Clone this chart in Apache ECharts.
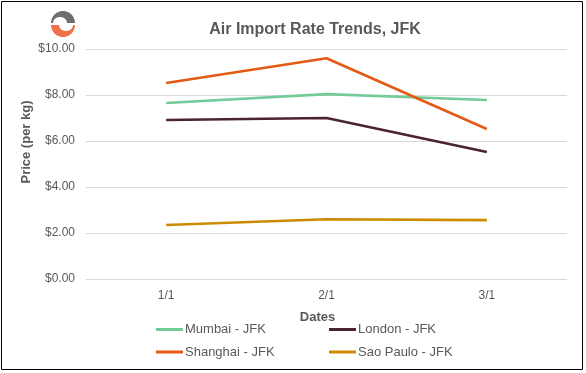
<!DOCTYPE html>
<html><head><meta charset="utf-8">
<script src="https://cdn.jsdelivr.net/npm/echarts@6/dist/echarts.min.js"></script>
<style>html,body{margin:0;padding:0;background:#fff}#c{width:586px;height:373px}</style>
</head><body><div id="c"></div>
<script>
const categories = ['1/1', '2/1', '3/1'];
const mumbai = [7.65, 8.04, 7.78];
const london = [6.91, 7.0, 5.52];
const shanghai = [8.52, 9.6, 6.52];
const saoPaulo = [2.35, 2.6, 2.56];
const yTicks = [0, 2, 4, 6, 8, 10];

const colors = {
  'Mumbai - JFK': '#74CB9A',
  'London - JFK': '#4B2335',
  'Shanghai - JFK': '#E35B12',
  'Sao Paulo - JFK': '#CC8B00'
};
const grey = '#595959';
const font = 'Liberation Sans, Arial, sans-serif';

// logo crescent outline (decoration)
function crescent(cx, cy, r, icx, rx, ry, top) {
  const pts = [];
  const s = top ? -1 : 1;
  const n = 24;
  for (let i = 0; i <= n; i++) {
    const a = Math.PI * i / n;
    const x = top ? cx - r * Math.cos(a) : cx + r * Math.cos(a);
    pts.push([x, cy + s * r * Math.sin(a)]);
  }
  for (let i = 0; i <= n; i++) {
    const a = Math.PI * i / n;
    const x = top ? icx + rx * Math.cos(a) : icx - rx * Math.cos(a);
    pts.push([x, cy + s * ry * Math.sin(a)]);
  }
  return pts;
}

function mk(name, data) {
  return {
    name, type: 'line', data, symbol: 'none', smooth: false,
    lineStyle: { width: 2.6, color: colors[name] },
    itemStyle: { color: colors[name] }
  };
}
const legendBase = {
  orient: 'vertical', itemWidth: 27, itemHeight: 3, itemGap: 9.5, icon: 'rect',
  textStyle: { color: grey, fontSize: 13, fontFamily: font, padding: [0, 0, 0, -3] },
  padding: 0
};
const chart = echarts.init(document.getElementById('c'));
chart.setOption({
  animation: false,
  backgroundColor: '#fff',
  title: {
    text: 'Air Import Rate Trends, JFK', left: 310, textAlign: 'center', top: 17,
    textStyle: { color: grey, fontSize: 16, fontWeight: 'bold', fontFamily: font }
  },
  grid: { left: 86, right: 19, top: 49, bottom: 94 },
  xAxis: {
    type: 'category', data: categories, boundaryGap: true,
    axisLine: { show: false }, axisTick: { show: false },
    axisLabel: { color: grey, fontSize: 12, fontFamily: font, margin: 11 },
    name: 'Dates', nameLocation: 'middle', nameGap: 32,
    nameTextStyle: { color: grey, fontSize: 13, fontWeight: 'bold', fontFamily: font, padding: [0, 18, 0, 0] }
  },
  yAxis: {
    type: 'value', min: yTicks[0], max: yTicks[yTicks.length - 1], interval: 2,
    axisLine: { show: false }, axisTick: { show: false },
    splitLine: { lineStyle: { color: '#d9d9d9', width: 1 } },
    axisLabel: { color: grey, fontSize: 12, fontFamily: font, margin: 11,
      formatter: v => '$' + v.toFixed(2) }
  },
  legend: [
    Object.assign({}, legendBase, { left: 156, top: 323, data: ['Mumbai - JFK', 'Shanghai - JFK'] }),
    Object.assign({}, legendBase, { left: 329, top: 323, data: ['London - JFK', 'Sao Paulo - JFK'] })
  ],
  graphic: [
    { type: 'rect', shape: { x: 1.5, y: 1.5, width: 581, height: 368 },
      style: { fill: 'none', stroke: '#000', lineWidth: 1 }, silent: true },
    { type: 'text', x: 26, y: 142, rotation: Math.PI / 2,
      style: { text: 'Price (per kg)', fill: grey, fontSize: 13, fontWeight: 'bold',
        fontFamily: font, align: 'center', verticalAlign: 'middle' } },
    { type: 'polygon', shape: { points: crescent(63, 23, 12, 60, 7, 6, true) },
      style: { fill: '#6d6e71' }, silent: true },
    { type: 'polygon', shape: { points: crescent(63, 25, 12, 66, 7, 6, false) },
      style: { fill: '#ee7148' }, silent: true }
  ],
  series: [
    mk('Mumbai - JFK', mumbai),
    mk('London - JFK', london),
    mk('Shanghai - JFK', shanghai),
    mk('Sao Paulo - JFK', saoPaulo)
  ]
});
</script></body></html>
